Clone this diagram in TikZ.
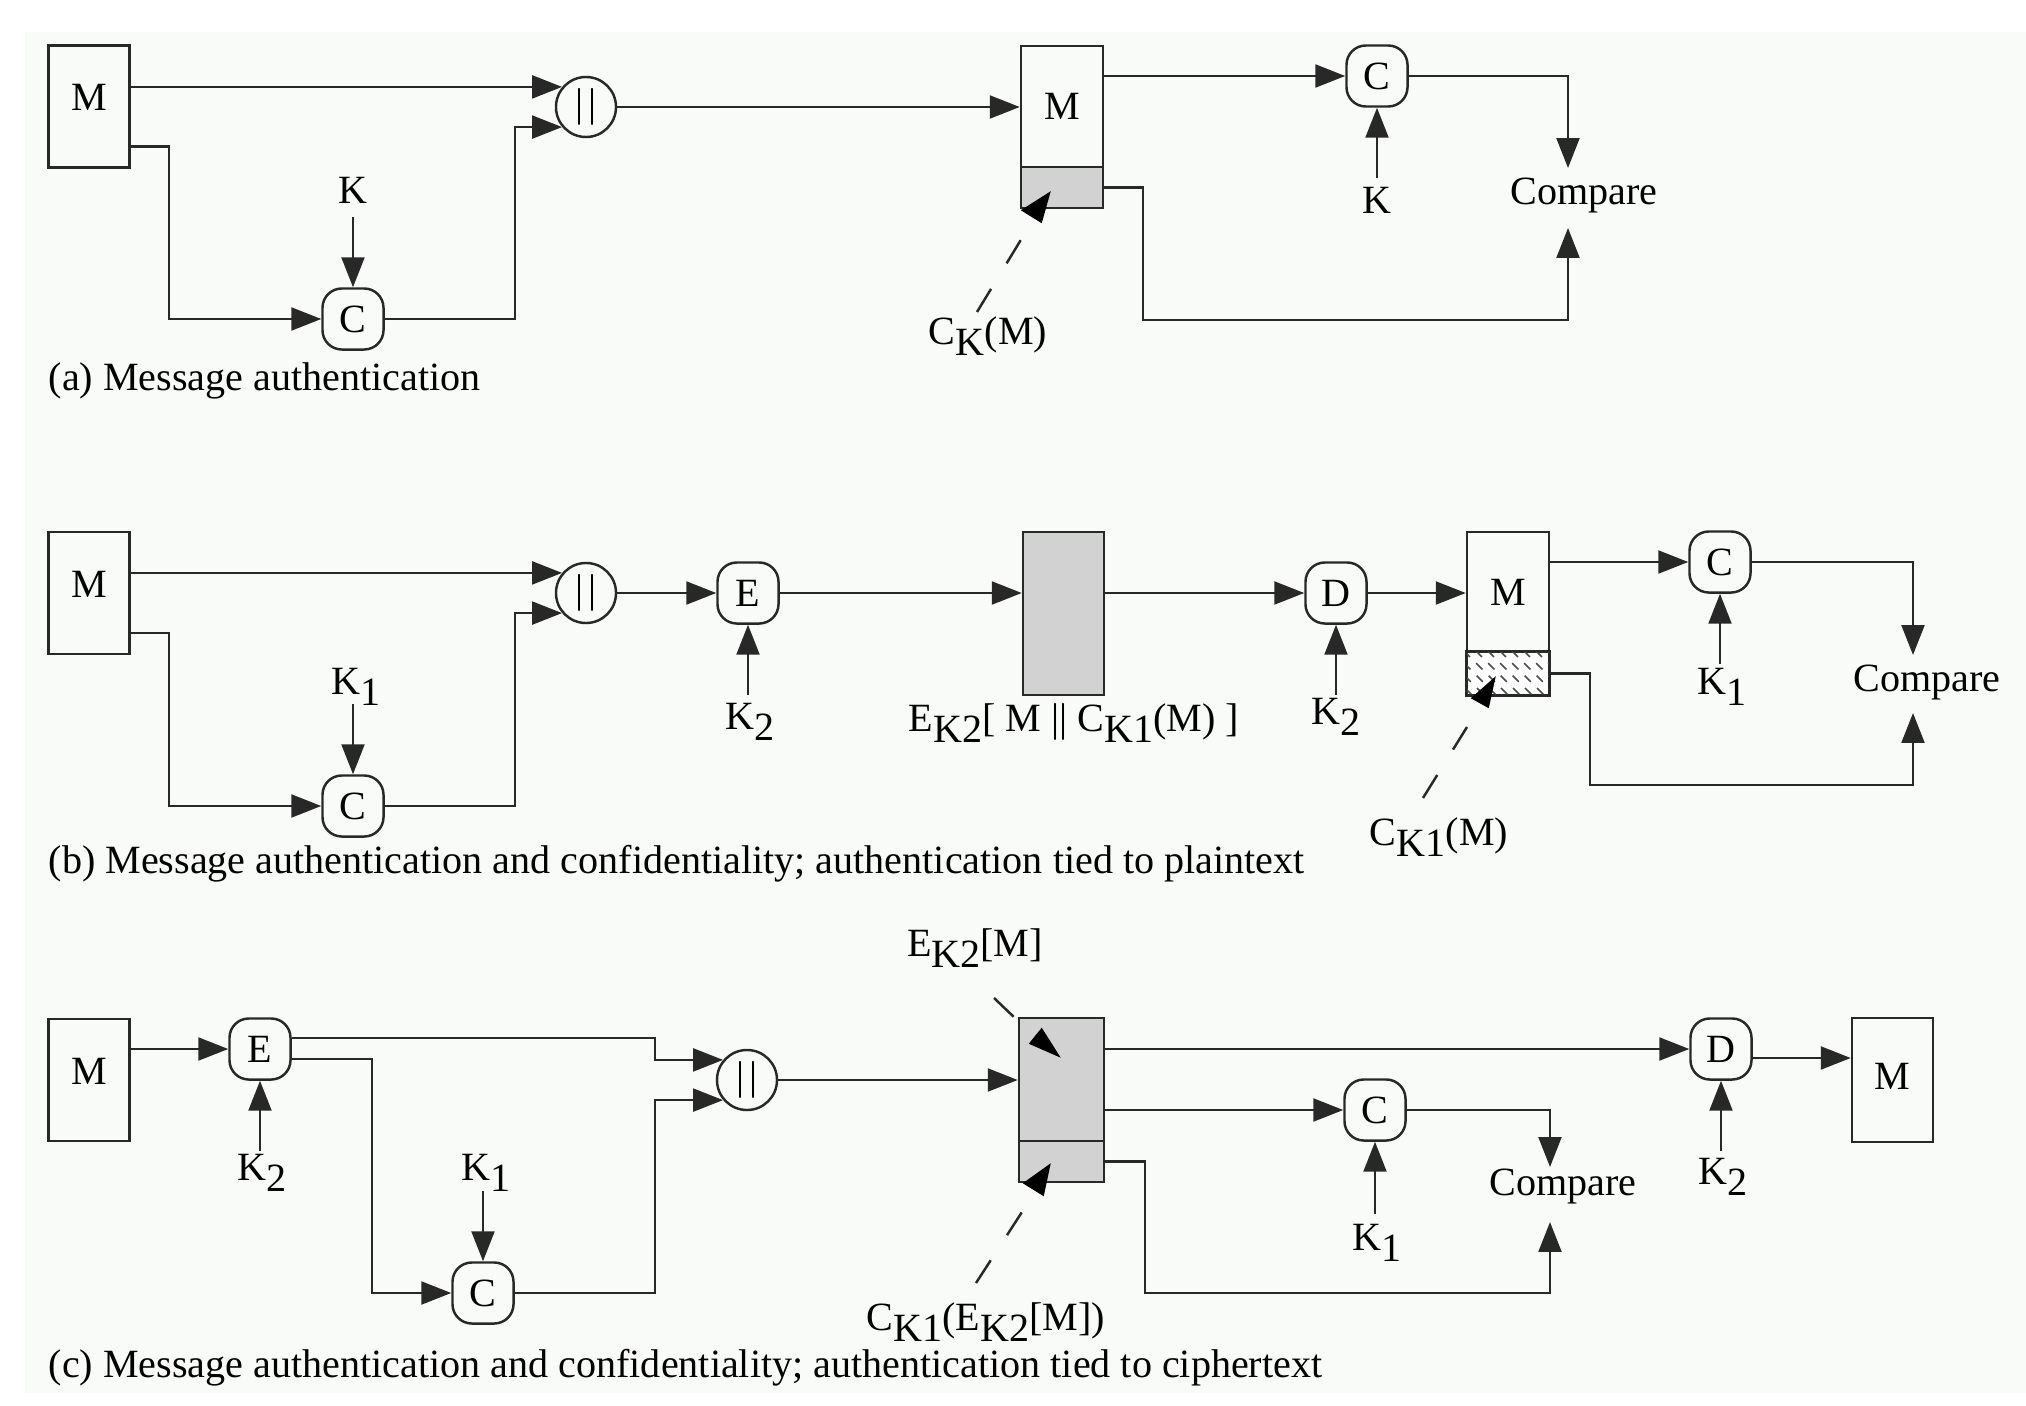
\documentclass[tikz,border=0pt]{standalone}
\usepackage{fontspec}
\setmainfont{Liberation Serif}
\usetikzlibrary{arrows.meta,calc}
\newcommand{\sbs}[1]{\raisebox{-0.6ex}{#1}}
\newcommand{\catbar}{\textbar\hspace{1.4pt}\textbar}
\definecolor{bgc}{RGB}{249,251,249}
\definecolor{lnc}{RGB}{40,40,40}
\definecolor{shade}{RGB}{210,210,210}
\begin{document}
\begin{tikzpicture}[x=0.01cm,y=-0.01cm,
  font=\fontsize{11.4}{13.7}\selectfont,
  every node/.style={inner sep=0pt},
  ln/.style={draw=lnc, line width=0.7pt},
  arr/.style={ln, -{Triangle[length=8.5pt,width=6.5pt]}},
  box/.style={draw=lnc, line width=0.7pt, minimum width=0.81cm, minimum height=1.22cm},
  fnode/.style={draw=lnc, line width=0.7pt, rounded corners=5.5pt, minimum width=0.61cm, minimum height=0.61cm},
  catn/.style={draw=lnc, line width=0.7pt, circle, minimum size=0.6cm},
  leader/.style={draw=lnc, line width=0.7pt, dash pattern=on 7.7pt off 8.5pt},
  headfill/.style={fill=black},
  captxt/.style={anchor=base west},
  upm/.style={text depth=5pt},
]
\fill[white] (0,0) rectangle (2026,1406);
\fill[bgc] (25,32) rectangle (2026,1393);
\useasboundingbox (0,0) rectangle (2026,1406);

% ---------------- (a) ----------------
\node[box, upm] (Ma) at (89,106.5) {M};
\node[catn] (cata) at (586,107) {\catbar};
\node[fnode] (Ca) at (353,319) {C};
\node (Ka) at (353,190) {K};
\node[box, minimum width=0.82cm, minimum height=1.21cm] (Ra) at (1062,106.5) {M};
\node[box, fill=shade, minimum width=0.82cm, minimum height=0.41cm] (Rat) at (1062,187.5) {};
\node[fnode] (C2a) at (1377,76) {C};
\node (K2a) at (1377,200) {K};
\node (Cmpa) at (1584,195) {Compare};
\node (CKa) at (988,336) {C\sbs{K}(M)};
\node[captxt] (capa) at (48,390) {(a) Message authentication};

\draw[arr] (Ma.east |- cata.140) -- (cata.140);
\draw[arr] ($(Ma.east)+(0,40)$) -| ($(Ca.west)+(-152,0)$) -- (Ca.west);
\draw[arr] ($(Ca.north)+(0,-70)$) -- (Ca.north);
\draw[arr] (Ca.east) -| ($(cata.220)+(-47,0)$) -- (cata.220);
\draw[arr] (cata.east) -- (Ra.west |- cata.east);
\draw[arr] (Ra.east |- C2a.west) -- (C2a.west);
\draw[arr] ($(C2a.south)+(0,70)$) -- (C2a.south);
\draw[arr] (C2a.east) -| ($(Cmpa)+(-16,-27)$);
\draw[arr] (Rat.east) -- ++(39,0) |- ($(Cmpa)+(-16,125)$) -- ($(Cmpa)+(-16,33)$);
\coordinate (la1) at ($(CKa)+(-11,-24)$);
\coordinate (la2) at ($(CKa)+(34,-98)$);
\draw[leader] (la1) -- (la2);
\fill[headfill] ($(Rat.south west)+(1,1)$) -- ($(Rat.south west)+(31,-18)$) -- ($(Rat.south west)+(22,14)$) -- cycle;

% ---------------- (b) ----------------
\node[box, upm] (Mb) at (89,593) {M};
\node[catn] (catb) at (586,593) {\catbar};
\node[fnode] (Cb) at (353,806) {C};
\node (K1b) at (356,687) {K\sbs{1}};
\node[fnode] (Eb) at (748,593) {E};
\node (K2b) at (750,722) {K\sbs{2}};
\node[box, fill=shade, minimum height=1.63cm] (Gb) at (1063.5,613.5) {};
\node (EKb) at (1074,723) {E\sbs{K2}[ M \textbar\textbar\ C\sbs{K1}(M) ]};
\node[fnode] (Db) at (1336,593) {D};
\node (K2bb) at (1336,717) {K\sbs{2}};
\node[box, minimum width=0.82cm, minimum height=1.2cm] (Rb) at (1508,592) {M};
\node[box, fill=white, minimum width=0.82cm, minimum height=0.43cm] (Rbt) at (1508,673.5) {};
\node[fnode] (C2b) at (1720,562) {C};
\node (K1bb) at (1722,687) {K\sbs{1}};
\node (Cmpb) at (1927,682) {Compare};
\node (CKb) at (1439,837) {C\sbs{K1}(M)};
\node[captxt] (capb) at (48,873) {(b) Message authentication and confidentiality; authentication tied to plaintext};

\begin{scope}
\clip (Rbt.south west) rectangle (Rbt.north east);
\foreach \i in {-50,-38,...,90}
  \draw[black!70, line width=0.5pt, dash pattern=on 2.5pt off 2.5pt] ($(Rbt.north west)+(\i,0)$) -- ++(45,45);
\end{scope}
\draw[lnc, line width=0.7pt] (Rbt.south west) rectangle (Rbt.north east);

\draw[arr] (Mb.east |- catb.140) -- (catb.140);
\draw[arr] ($(Mb.east)+(0,40)$) -| ($(Cb.west)+(-152,0)$) -- (Cb.west);
\draw[arr] ($(Cb.north)+(0,-70)$) -- (Cb.north);
\draw[arr] (Cb.east) -| ($(catb.220)+(-47,0)$) -- (catb.220);
\draw[arr] (catb.east) -- (Eb.west);
\draw[arr] ($(Eb.south)+(0,70)$) -- (Eb.south);
\draw[arr] (Eb.east) -- (Gb.west |- Eb.east);
\draw[arr] (Gb.east |- Db.west) -- (Db.west);
\draw[arr] ($(Db.south)+(0,70)$) -- (Db.south);
\draw[arr] (Db.east) -- (Rb.west |- Db.east);
\draw[arr] (Rb.east |- C2b.west) -- (C2b.west);
\draw[arr] ($(C2b.south)+(0,70)$) -- (C2b.south);
\draw[arr] (C2b.east) -| ($(Cmpb)+(-14,-27)$);
\draw[arr] (Rbt.east) -- ++(40,0) |- ($(Cmpb)+(-14,103)$) -- ($(Cmpb)+(-14,31)$);
\coordinate (lb1) at ($(CKb)+(-16,-39)$);
\coordinate (lb2) at ($(CKb)+(28,-110)$);
\draw[leader] (lb1) -- (lb2);
\fill[headfill] ($(Rbt.south west)+(5,2)$) -- ($(Rbt.south west)+(30,-20)$) -- ($(Rbt.south west)+(23,12)$) -- cycle;

% ---------------- (c) ----------------
\node[box, upm] (Mc) at (89,1080) {M};
\node[fnode] (Ec) at (260,1049) {E};
\node (K2c) at (262,1173) {K\sbs{2}};
\node[catn] (catc) at (747,1080) {\catbar};
\node[fnode] (Cc) at (483,1293) {C};
\node (K1c) at (486,1173) {K\sbs{1}};
\node[box, fill=shade, minimum width=0.85cm, minimum height=1.23cm] (Gc) at (1061.5,1079.5) {};
\node[box, fill=shade, minimum width=0.85cm, minimum height=0.41cm] (Gct) at (1061.5,1161.5) {};
\node (EKc) at (975,948) {E\sbs{K2}[M]};
\node[fnode] (C2c) at (1375,1110) {C};
\node (K1cc) at (1377,1243) {K\sbs{1}};
\node (Cmpc) at (1563,1186) {Compare};
\node[fnode] (Dc) at (1721,1049) {D};
\node (K2cc) at (1723,1177) {K\sbs{2}};
\node[box, minimum height=1.24cm, text depth=2pt] (Mc2) at (1892.5,1080) {M};
\node (CKc) at (986,1322) {C\sbs{K1}(E\sbs{K2}[M])};
\node[captxt] (capc) at (48,1377) {(c) Message authentication and confidentiality; authentication tied to ciphertext};

\draw[arr] (Mc.east |- Ec.west) -- (Ec.west);
\draw[arr] ($(Ec.south)+(0,70)$) -- (Ec.south);
\draw[arr] ($(Ec.east)+(0,-11)$) -| ($(catc.140)+(-68,0)$) -- (catc.140);
\draw[arr] ($(Ec.east)+(0,10)$) -| ($(Cc.west)+(-79,0)$) -- (Cc.west);
\draw[arr] ($(Cc.north)+(0,-70)$) -- (Cc.north);
\draw[arr] (Cc.east) -| ($(catc.220)+(-68,0)$) -- (catc.220);
\draw[arr] (catc.east) -- (Gc.west |- catc.east);
\draw[arr] (Gc.east |- Dc.west) -- (Dc.west);
\draw[arr] (Gc.east |- C2c.west) -- (C2c.west);
\draw[arr] ($(C2c.south)+(0,72)$) -- (C2c.south);
\draw[arr] (C2c.east) -| ($(Cmpc)+(-13,-19)$);
\draw[arr] (Gct.east) -- ++(40,0) |- ($(Cmpc)+(-13,107)$) -- ($(Cmpc)+(-13,36)$);
\draw[arr] ($(Dc.south)+(0,70)$) -- (Dc.south);
\coordinate (dout) at ($(Dc.east)+(0,9)$);
\draw[arr] (dout) -- (Mc2.west |- dout);
\coordinate (lc1) at ($(EKc)+(19,50)$);
\coordinate (lc2) at ($(EKc)+(41,71)$);
\draw[leader] (lc1) -- (lc2);
\fill[headfill] ($(Gc.north west)+(11,27)$) -- ($(Gc.north west)+(24,11)$) -- ($(Gc.north west)+(43,41)$) -- cycle;
\coordinate (lc3) at ($(CKc)+(-10,-39)$);
\coordinate (lc4) at ($(CKc)+(36,-110)$);
\draw[leader] (lc3) -- (lc4);
\fill[headfill] ($(Gct.south west)+(5,0)$) -- ($(Gct.south west)+(33,-20)$) -- ($(Gct.south west)+(26,13)$) -- cycle;
\end{tikzpicture}
\end{document}
